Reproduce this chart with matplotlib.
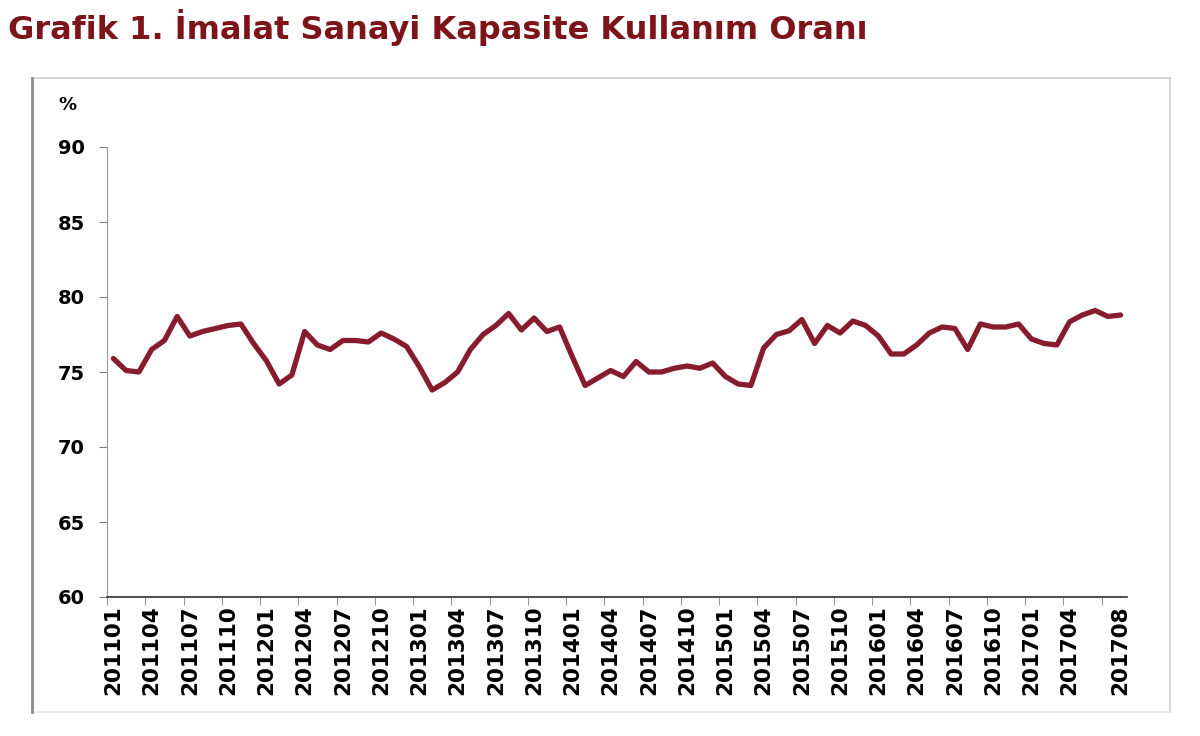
import matplotlib
matplotlib.use("Agg")
import matplotlib.pyplot as plt
from matplotlib.lines import Line2D

# ---- data ----
months = [f"{y}{m:02d}" for y in range(2011, 2018) for m in range(1, 13)][:80]
values = [75.9, 75.1, 75.0, 76.5, 77.1, 78.7, 77.4, 77.7, 77.9, 78.1,
          78.2, 76.9, 75.75, 74.2, 74.8, 77.7, 76.8, 76.5, 77.1, 77.1,
          77.0, 77.6, 77.2, 76.7, 75.35, 73.8, 74.3, 75.0, 76.5, 77.5,
          78.1, 78.9, 77.8, 78.6, 77.7, 78.0, 76.0, 74.1, 74.6, 75.1,
          74.7, 75.7, 75.0, 75.0, 75.25, 75.4, 75.25, 75.6, 74.7, 74.2,
          74.1, 76.6, 77.5, 77.75, 78.5, 76.9, 78.1, 77.6, 78.4, 78.1,
          77.4, 76.2, 76.2, 76.8, 77.6, 78.0, 77.9, 76.5, 78.2, 78.0,
          78.0, 78.2, 77.2, 76.9, 76.8, 78.35, 78.8, 79.1, 78.7, 78.8]
label_idx = list(range(0, 76, 3)) + [79]
tick_labels = [months[i] for i in label_idx]
yticks = [60, 65, 70, 75, 80, 85, 90]

title = "Grafik 1. İmalat Sanayi Kapasite Kullanım Oranı"

fig = plt.figure(figsize=(12, 7.36), dpi=100)
fig.patch.set_facecolor("white")

# outer frame
fig.add_artist(Line2D([32/1200, 1170/1200], [1-78/736, 1-78/736], color="#cfcfcf", lw=1.2))
fig.add_artist(Line2D([1170/1200, 1170/1200], [1-78/736, 1-712/736], color="#cfcfcf", lw=1.2))
fig.add_artist(Line2D([32/1200, 1170/1200], [1-712/736, 1-712/736], color="#e6e6e6", lw=1.2))
fig.add_artist(Line2D([32/1200, 32/1200], [1-78/736, 1-712/736], color="#8a8a8a", lw=2))

fig.text(8/1200, 1-28/736, title, fontsize=23, fontweight="bold",
         color="#7d1419", ha="left", va="center", family="DejaVu Sans")

ax = fig.add_axes([107/1200, 1-597/736, 1020/1200, 450/736])
x = list(range(len(values)))
ax.plot(x, values, color="#861c2e", lw=3.8, solid_joinstyle="round", solid_capstyle="round")

ax.set_xlim(-0.5, 79.5)
ax.set_ylim(60, 90)
ax.set_yticks(yticks)
ax.set_yticklabels([str(v) for v in yticks], fontsize=14, fontweight="bold")
ax.set_xticks(label_idx)
ax.set_xticklabels(tick_labels, rotation=90, fontsize=15.5, fontweight="bold")
ax.set_xticks([-0.5 + 3*k for k in range(27)], minor=True)
ax.tick_params(axis="x", which="major", length=0, pad=6)
ax.tick_params(axis="x", which="minor", length=6, color="#808080", direction="out")
ax.tick_params(axis="y", length=6, color="#808080", direction="out", pad=10)

for s in ["top", "right"]:
    ax.spines[s].set_visible(False)
ax.spines["left"].set_color("#9a9a9a")
ax.spines["bottom"].set_color("#303030")
ax.spines["bottom"].set_linewidth(1.2)

fig.text(67/1200, 1-105/736, "%", fontsize=13, fontweight="bold", ha="center", va="center")

fig.savefig("out.png", dpi=100, facecolor="white")
